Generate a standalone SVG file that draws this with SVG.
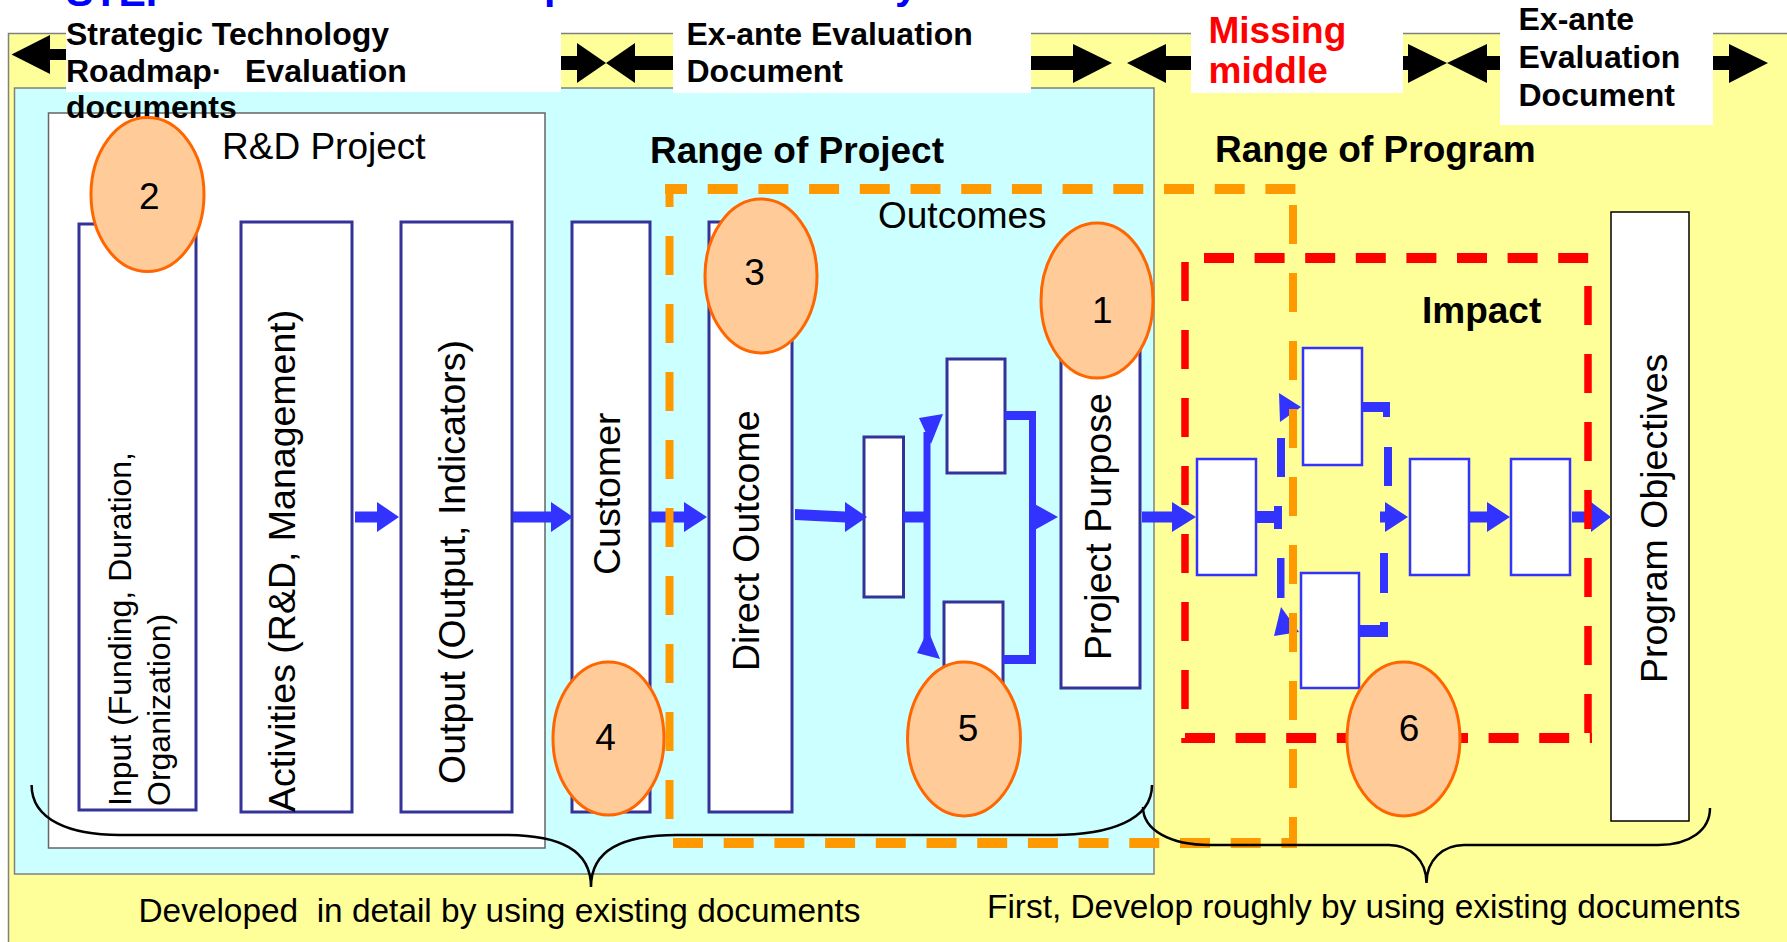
<svg xmlns="http://www.w3.org/2000/svg" width="1787" height="942" viewBox="0 0 1787 942">
<defs>
<style>
.bg-y{fill:#ffff99;stroke:#808080;stroke-width:1.5}
.bg-c{fill:#ccffff;stroke:#808080;stroke-width:1.5}
.frame{fill:#fff;stroke:#666;stroke-width:1.5}
.wbox{fill:#fff}
.col{fill:#fff;stroke:#333399;stroke-width:3}
.ibox{fill:#fff;stroke:#3333ff;stroke-width:2.5}
.pbox{fill:#fff;stroke:#000;stroke-width:1.5}
.band{fill:#000}
.arr{fill:#3333ff}
.oh{fill:none;stroke:#ff9900;stroke-width:10;stroke-dasharray:30 20.7}
.ov{fill:none;stroke:#ff9900;stroke-width:8;stroke-dasharray:39 29}
.rh{fill:none;stroke:#ff0000;stroke-width:10;stroke-dasharray:30 20.6}
.rv{fill:none;stroke:#ff0000;stroke-width:7.5;stroke-dasharray:39 29}
.num{fill:#ffcc99;stroke:#ff6600;stroke-width:3}
.brace{fill:none;stroke:#000;stroke-width:2.5}
text{font-family:"Liberation Sans",Arial,sans-serif;fill:#000}
.hb{font-size:32px;font-weight:bold}
.red{font-size:37px;font-weight:bold;fill:#ff0000}
.h37{font-size:37px}
.h37b{font-size:37px;font-weight:bold}
.vt{font-size:37.5px}
.vs{font-size:32px}
.nt{font-size:37px;text-anchor:middle}
.ft{font-size:33.4px}
.title{font-size:41px;font-weight:bold;fill:#0000ff}
</style>
</defs>

<!-- heading, cut off by the top edge -->
<g id="heading">
  <text class="title" x="66" y="6">STEP</text>
  <text class="title" x="544" y="-1">p</text>
  <text class="title" x="895" y="-1">y</text>
</g>

<!-- background panels -->
<rect class="bg-y" x="8.5" y="33.5" width="1800" height="920"/>
<rect class="bg-c" x="14.5" y="88" width="1139.5" height="786"/>

<!-- R&D project frame -->
<g id="rd-project">
  <rect class="frame" x="48.5" y="113" width="496.5" height="735"/>
  <text class="h37" x="222" y="159">R&amp;D Project</text>
</g>

<!-- document band along the top -->
<g id="band">
  <polygon class="band" points="11.5,54.5 50,35 50,74"/>
  <rect class="band" x="49" y="49" width="22" height="11"/>
  <rect class="band" x="555" y="56" width="25" height="14"/>
  <polygon class="band" points="577,43 606,63 577,83"/>
  <polygon class="band" points="635,43 606,63 635,83"/>
  <rect class="band" x="632" y="56" width="45" height="14"/>
  <rect class="band" x="1027" y="56" width="48" height="14"/>
  <polygon class="band" points="1073,44 1112,63 1073,83"/>
  <polygon class="band" points="1166,44 1127,63 1166,83"/>
  <rect class="band" x="1163" y="56" width="32" height="14"/>
  <rect class="band" x="1399" y="56" width="11" height="14"/>
  <polygon class="band" points="1408,44 1447,63 1408,83"/>
  <polygon class="band" points="1487,44 1447,63 1487,83"/>
  <rect class="band" x="1484" y="56" width="20" height="14"/>
  <rect class="band" x="1709" y="56" width="22" height="14"/>
  <polygon class="band" points="1729,44 1768,63 1729,83"/>
</g>

<g id="doc-roadmap">
  <rect class="wbox" x="66" y="12" width="495" height="80"/>
  <text class="hb" x="66" y="45">Strategic Technology</text>
  <text class="hb" x="66" y="82">Roadmap·<tspan x="245">Evaluation</tspan></text>
  <text class="hb" x="66" y="118">documents</text>
</g>
<g id="doc-exante-1">
  <rect class="wbox" x="673" y="12" width="358" height="81"/>
  <text class="hb" x="686.5" y="45">Ex-ante Evaluation</text>
  <text class="hb" x="686.5" y="82">Document</text>
</g>
<g id="doc-missing">
  <rect class="wbox" x="1191" y="12" width="212" height="81"/>
  <text class="red" x="1208.5" y="43">Missing</text>
  <text class="red" x="1208.5" y="83">middle</text>
</g>
<g id="doc-exante-2">
  <rect class="wbox" x="1500" y="0" width="213" height="125"/>
  <text class="hb" x="1518.5" y="30">Ex-ante</text>
  <text class="hb" x="1518.5" y="68">Evaluation</text>
  <text class="hb" x="1518.5" y="106">Document</text>
</g>

<!-- region titles -->
<text class="h37b" x="650" y="163">Range of Project</text>
<text class="h37b" x="1215" y="162">Range of Program</text>
<text class="h37" x="878" y="228">Outcomes</text>
<text class="h37b" x="1422" y="323">Impact</text>

<!-- logic model columns -->
<g id="input">
  <rect class="col" x="79" y="224" width="117" height="586"/>
  <text class="vs" transform="translate(131,806) rotate(-90)">Input (Funding, Duration,</text>
  <text class="vs" transform="translate(169.5,806) rotate(-90)">Organization)</text>
</g>
<g id="activities">
  <rect class="col" x="241" y="222" width="111" height="590"/>
  <text class="vt" transform="translate(295,812) rotate(-90)">Activities (R&amp;D, Management)</text>
</g>
<g id="output">
  <rect class="col" x="401" y="222" width="111" height="590"/>
  <text class="vt" transform="translate(464.5,784) rotate(-90)">Output (Output, Indicators)</text>
</g>
<g id="customer">
  <rect class="col" x="572" y="222" width="78" height="590"/>
  <text class="vt" transform="translate(620,575) rotate(-90)">Customer</text>
</g>
<g id="direct-outcome">
  <rect class="col" x="709" y="222" width="83" height="590"/>
  <text class="vt" transform="translate(759,671) rotate(-90)">Direct Outcome</text>
</g>
<g id="outcome-a"><rect class="col" x="864" y="437" width="39.5" height="160"/></g>
<g id="outcome-b"><rect class="col" x="947" y="359" width="58" height="114"/></g>
<g id="outcome-c"><rect class="col" x="944" y="602" width="59" height="112"/></g>
<g id="project-purpose">
  <rect class="col" x="1061" y="340" width="79" height="348"/>
  <text class="vt" transform="translate(1110.5,660) rotate(-90)">Project Purpose</text>
</g>
<g id="impact-d"><rect class="ibox" x="1197" y="459" width="59" height="116"/></g>
<g id="impact-e"><rect class="ibox" x="1303" y="348" width="59" height="117"/></g>
<g id="impact-f"><rect class="ibox" x="1301" y="573" width="58" height="115"/></g>
<g id="impact-g"><rect class="ibox" x="1410" y="459" width="59" height="116"/></g>
<g id="impact-h"><rect class="ibox" x="1511" y="459" width="59" height="116"/></g>
<g id="program-objectives">
  <rect class="pbox" x="1611" y="212" width="78" height="609"/>
  <text class="vt" transform="translate(1666.5,683) rotate(-90)">Program Objectives</text>
</g>

<!-- connectors -->
<g id="connectors">
  <polygon class="arr" points="355,511.5 377,511.5 377,502 399,517 377,532 377,522.5 355,522.5"/>
  <polygon class="arr" points="513,511.5 551,511.5 551,502 573,517 551,532 551,522.5 513,522.5"/>
  <polygon class="arr" points="650,511.5 684,511.5 684,502 707,517 684,532 684,522.5 650,522.5"/>
  <polygon class="arr" points="795,509 845,511.5 845,502 867,517 845,532 845,522.5 795,520"/>
  <!-- fork A to B and C -->
  <rect class="arr" x="903" y="511.5" width="24" height="11"/>
  <rect class="arr" x="923.5" y="432" width="7" height="212"/>
  <polygon class="arr" points="919,418 943,414 931,444"/>
  <polygon class="arr" points="917,653 940,659 928,630"/>
  <!-- merge B and C into project purpose -->
  <rect class="arr" x="1005" y="411" width="31" height="9"/>
  <rect class="arr" x="1029" y="411" width="7" height="253"/>
  <rect class="arr" x="1003" y="655" width="33" height="9"/>
  <polygon class="arr" points="1031,502 1058,517 1031,532"/>
  <polygon class="arr" points="1142,511.5 1172,511.5 1172,502 1196,517 1172,532 1172,522.5 1142,522.5"/>
  <!-- impact chain, split from D -->
  <rect class="arr" x="1256" y="511" width="26" height="12"/>
  <rect class="arr" x="1274" y="506" width="8" height="23"/>
  <rect class="arr" x="1277" y="438" width="8" height="39"/>
  <polygon class="arr" points="1279,393 1301,407 1280,422"/>
  <rect class="arr" x="1277" y="558" width="7.5" height="40"/>
  <polygon class="arr" points="1281,607 1299,632 1274,636"/>
  <!-- join E and F into G -->
  <rect class="arr" x="1362" y="402" width="28" height="10"/>
  <rect class="arr" x="1383" y="402" width="7" height="15"/>
  <rect class="arr" x="1384" y="447" width="8" height="39"/>
  <rect class="arr" x="1380" y="511.5" width="7" height="11"/>
  <polygon class="arr" points="1385,502 1408,517 1385,532"/>
  <rect class="arr" x="1380" y="553" width="8" height="40"/>
  <rect class="arr" x="1359" y="625" width="29" height="12"/>
  <rect class="arr" x="1380" y="622" width="8" height="15"/>
  <polygon class="arr" points="1470,511.5 1487,511.5 1487,502 1510,517 1487,532 1487,522.5 1470,522.5"/>
  <polygon class="arr" points="1572,511.5 1591,511.5 1591,502 1611,517 1591,532 1591,522.5 1572,522.5"/>
</g>

<!-- range of outcomes (orange) and impact (red) -->
<g id="outcomes-range">
  <line class="oh" x1="665" y1="189" x2="1297" y2="189" stroke-dashoffset="8"/>
  <line class="ov" x1="669.5" y1="184" x2="669.5" y2="848" stroke-dashoffset="16"/>
  <line class="ov" x1="1293" y1="194" x2="1293" y2="848" stroke-dasharray="40 28" stroke-dashoffset="57"/>
  <line class="oh" x1="673" y1="843" x2="1297" y2="843"/>
</g>
<g id="impact-range">
  <line class="rh" x1="1204" y1="258" x2="1592" y2="258"/>
  <line class="rv" x1="1185" y1="262" x2="1185" y2="743"/>
  <line class="rv" x1="1588" y1="286" x2="1588" y2="738"/>
  <line class="rh" x1="1185" y1="738" x2="1592" y2="738" stroke-dasharray="30 20.5"/>
</g>

<!-- numbered markers -->
<g id="mark-1"><ellipse class="num" cx="1097" cy="300.5" rx="56" ry="77.5"/><text class="nt" x="1102.4" y="323">1</text></g>
<g id="mark-2"><ellipse class="num" cx="147.5" cy="194.5" rx="56.5" ry="77"/><text class="nt" x="149.3" y="209">2</text></g>
<g id="mark-3"><ellipse class="num" cx="761" cy="276" rx="56" ry="77"/><text class="nt" x="754.5" y="285">3</text></g>
<g id="mark-4"><ellipse class="num" cx="608.5" cy="738.5" rx="55.5" ry="76.5"/><text class="nt" x="605.5" y="750">4</text></g>
<g id="mark-5"><ellipse class="num" cx="964" cy="739" rx="56.5" ry="77"/><text class="nt" x="968" y="741">5</text></g>
<g id="mark-6"><ellipse class="num" cx="1403.5" cy="739" rx="56.5" ry="77"/><text class="nt" x="1409" y="741">6</text></g>

<!-- braces and notes -->
<g id="note-detail">
  <path class="brace" d="M31.6,785 C31.6,820 70,835 120,835 H505 C560,835 591,850 591,887 C591,850 622,835 677,835 H1053 C1110,835 1152,820 1152,785"/>
  <text class="ft" x="138.5" y="922" xml:space="preserve">Developed  in detail by using existing documents</text>
</g>
<g id="note-rough">
  <path class="brace" d="M1143,807 C1143,830 1170,845 1210,845 H1389 C1410,845 1426.5,860 1426.5,883 C1426.5,860 1443,845 1464,845 H1658 C1690,845 1710,830 1710,808"/>
  <text class="ft" x="987" y="918">First, Develop roughly by using existing documents</text>
</g>
</svg>
